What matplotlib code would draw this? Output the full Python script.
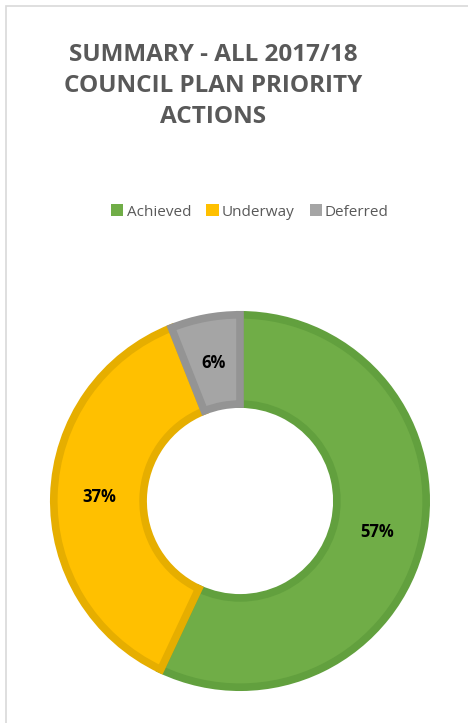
import matplotlib.pyplot as plt
from matplotlib.patches import Rectangle

labels = ['Achieved', 'Underway', 'Deferred']
values = [57, 37, 6]
colors = ['#70AD47', '#FFC000', '#A5A5A5']
edges = ['#62A03E', '#E6AE00', '#949494']

W, H = 468, 723
fig = plt.figure(figsize=(W / 100, H / 100), dpi=100)
plt.rcParams['font.family'] = ['Open Sans', 'DejaVu Sans']

# chart area border (top and left visible)
fig.patches.append(Rectangle((6 / W, -0.1), 1.2, (H - 6) / H + 0.1, transform=fig.transFigure,
                             fill=False, edgecolor='#D9D9D9', linewidth=1.2))

ax = fig.add_axes([50 / W, (H - 691) / H, 380 / W, 380 / H])
wedges, texts, autotexts = ax.pie(values, colors=colors, startangle=90, counterclock=False,
                                  radius=0.98, autopct='%1.0f%%', pctdistance=0.755,
                                  wedgeprops=dict(width=0.47, linewidth=5.5, edgecolor='white'),
                                  textprops=dict(fontsize=12, fontweight='bold', color='black'))
for w, e in zip(wedges, edges):
    w.set_edgecolor(e)
    w.set_joinstyle('miter')
ax.set_xlim(-1, 1)
ax.set_ylim(-1, 1)
ax.set_aspect('equal')
ax.axis('off')

fig.text(213 / W, 1 - 86 / H, 'SUMMARY - ALL 2017/18\nCOUNCIL PLAN PRIORITY\nACTIONS',
         ha='center', va='center', fontsize=17.5, fontweight='bold', color='#595959',
         linespacing=1.38)

handles = [Rectangle((0, 0), 1, 1, facecolor=c, edgecolor='none') for c in colors]
fig.legend(handles, labels, loc='center', bbox_to_anchor=(250 / W, 1 - 212 / H), ncol=3,
           frameon=False, fontsize=11, handlelength=0.8, handleheight=0.8,
           handletextpad=0.2, columnspacing=1.0, labelcolor='#595959')

fig.savefig('out.png', dpi=100)
